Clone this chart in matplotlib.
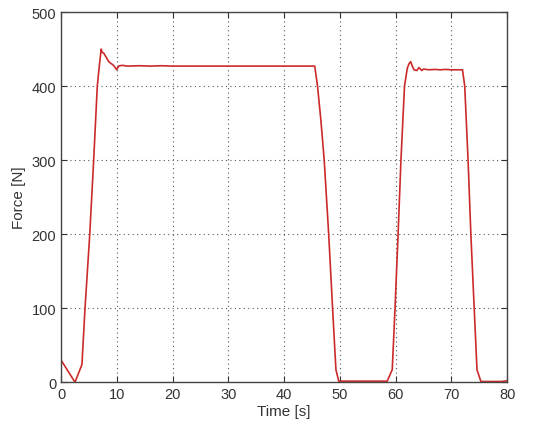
import matplotlib
matplotlib.use("Agg")
import matplotlib.pyplot as plt

time_s = [0, 2.5, 3.75, 4.3, 5.15, 5.85, 6.5, 6.9, 7.2, 7.35, 7.7, 8.55, 9.4, 10.0,
          10.3, 10.9, 12, 14, 16, 18, 20, 25, 30, 35, 40, 44,
          45.5, 46.0, 46.6, 47.2, 48.0, 48.7, 49.3, 49.8, 52, 55, 58.5, 59.4, 59.9, 60.45,
          60.96, 61.6, 62.1, 62.4, 62.7, 63.0, 63.3, 63.8, 64.2, 64.7, 65.0, 66, 67, 68,
          69, 70, 71, 72.0, 72.4, 73.0, 73.5, 74.1, 74.6, 75.3, 77, 79, 80]
force_n = [30, 0, 24, 100, 200, 300, 400, 430, 450, 446, 444, 433, 428, 422,
           427, 428, 427, 427.5, 427, 427.5, 427, 427, 427, 427, 427, 427,
           427, 400, 354, 300, 200, 100, 17, 1.5, 1.5, 1.5, 1.5, 17, 100, 200,
           300, 400, 424, 430, 433, 427, 422, 421, 425, 421, 423, 422, 422.5, 422,
           422.5, 422, 422, 422, 400, 300, 200, 100, 17, 1, 1, 1, 2]

x_ticks = [0, 10, 20, 30, 40, 50, 60, 70, 80]
y_ticks = [0, 100, 200, 300, 400, 500]

plt.rcParams['font.family'] = ['Liberation Sans', 'DejaVu Sans']

fig = plt.figure(figsize=(5.5, 4.35), dpi=100)
ax = fig.add_axes([0.111, 0.119, 0.811, 0.851])
ax.plot(time_s, force_n, color='#cc2a2a', linewidth=1.2)
ax.set_xlim(0, 80)
ax.set_ylim(0, 500)
ax.set_xticks(x_ticks)
ax.set_yticks(y_ticks)
ax.grid(True, linestyle=(0, (1, 3)), color='#555555', linewidth=0.8)
ax.tick_params(direction='in', top=True, right=True, labelsize=10.5, colors='#333333', length=4)
for s in ax.spines.values():
    s.set_color('#444444')
    s.set_linewidth(1.0)
ax.set_xlabel('Time [s]', fontsize=11, color='#333333', labelpad=2)
ax.set_ylabel('Force [N]', fontsize=11, color='#333333', labelpad=4)
fig.savefig('out.png', dpi=100)
